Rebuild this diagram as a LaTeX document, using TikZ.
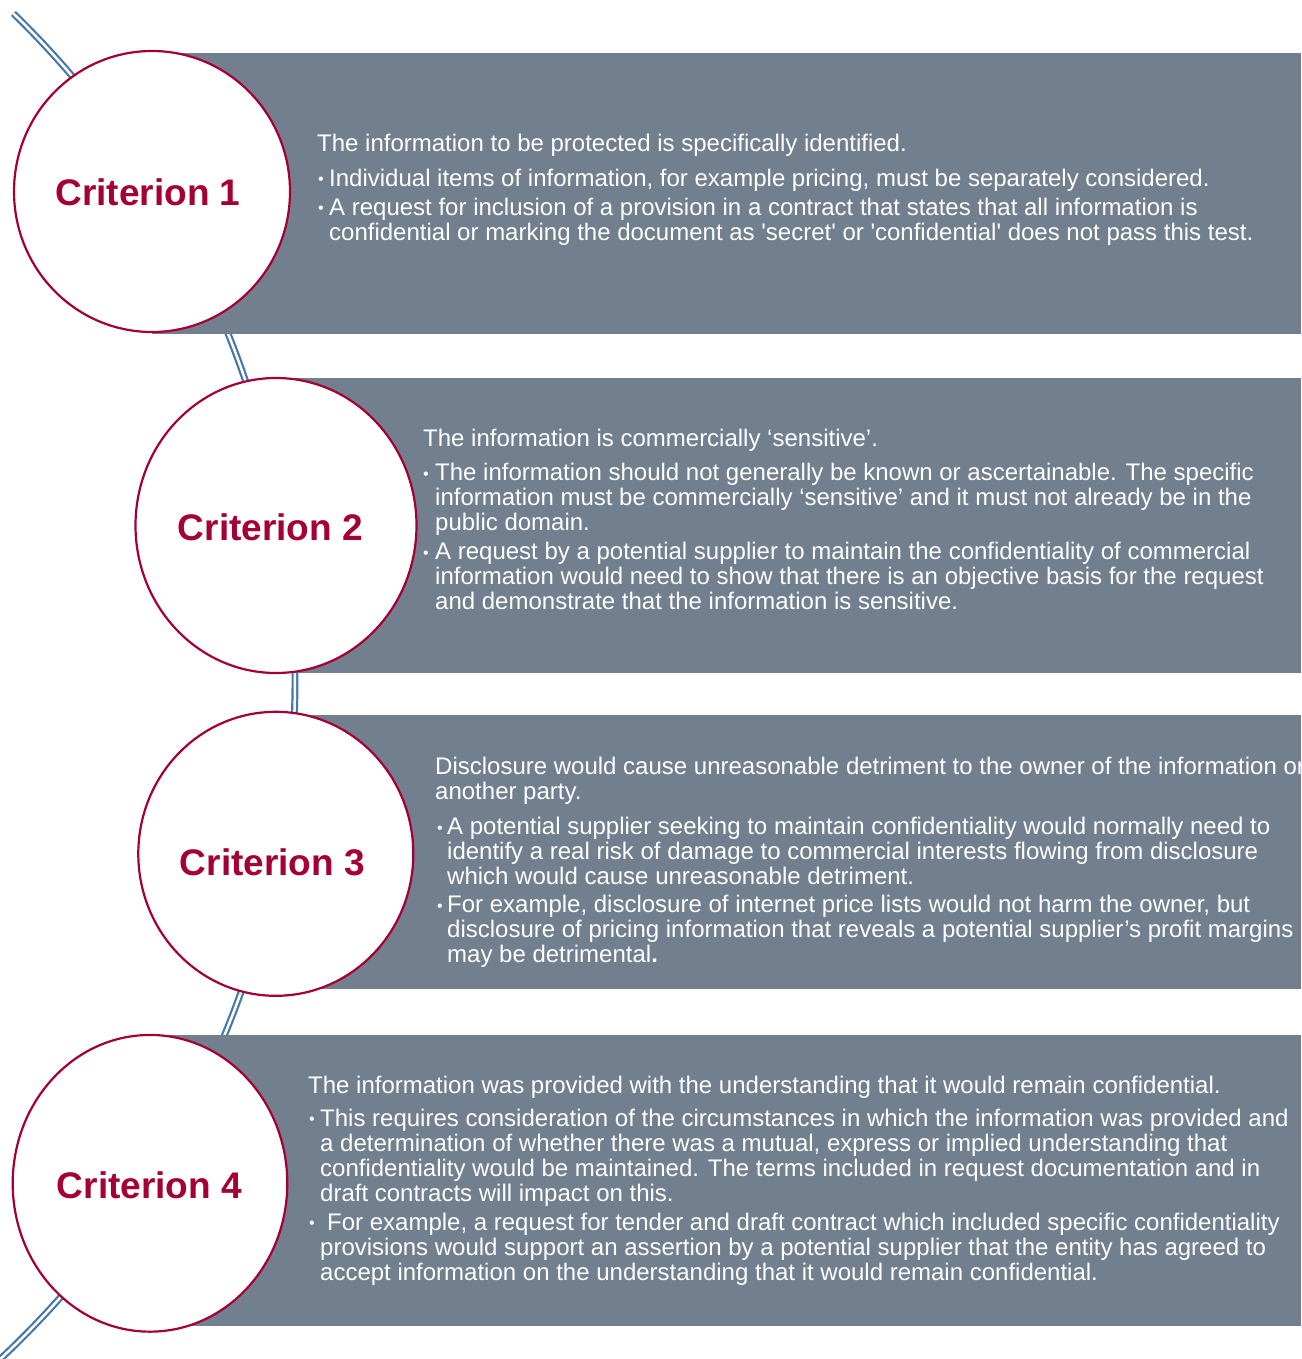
\documentclass[tikz,border=0pt]{standalone}
\usepackage{fontspec}
\newfontfamily\bodyfont{Liberation Sans}
\usetikzlibrary{shapes.geometric}
\definecolor{boxgray}{RGB}{113,127,142}
\definecolor{crimson}{RGB}{165,0,52}
\definecolor{arcblue}{RGB}{70,120,168}
\newcommand\lines[1]{\begin{tabular}[t]{@{}l@{}}#1\end{tabular}}
\tikzset{
  arcline/.style={draw=arcblue, line width=2.2pt, double=white, double distance=2.5pt},
  panel/.style={fill=boxgray},
  circ/.style={ellipse, draw=crimson, line width=2.2pt, fill=white, inner sep=0pt},
  lab/.style={anchor=base, inner sep=0pt, text=crimson, font=\bodyfont\bfseries\fontsize{37}{40}\selectfont},
  txt/.style={anchor=base west, inner sep=0pt, text=white, font=\bodyfont\fontsize{24}{25}\selectfont},
  bul/.style={anchor=base west, inner sep=0pt, text=white, font=\bodyfont\fontsize{16}{25}\selectfont, yshift=1.5pt}
}
\begin{document}
\begin{tikzpicture}[x=1pt,y=-1pt]
\clip (0,0) rectangle (1301,1359);
\fill[white] (0,0) rectangle (1301,1359);
% background arc
\draw[arcline] (-634.7,680) ++(-45.8:929.7) arc[start angle=-45.8, end angle=50, radius=929.7];
% panels
\path[panel] (152,53) rectangle (1301,334);
\path[panel] (276,378) rectangle (1301,673);
\path[panel] (276,715) rectangle (1301,988.5);
\path[panel] (150,1035) rectangle (1301,1326);
% circles
\node[circ, minimum width=276, minimum height=281] (c1) at (152,191.5) {};
\node[circ, minimum width=281, minimum height=295] (c2) at (276,525.5) {};
\node[circ, minimum width=275, minimum height=284] (c3) at (275.8,853.8) {};
\node[circ, minimum width=274.6, minimum height=296.7] (c4) at (150,1183.3) {};
\node[lab] (l1) at (148,205) {Criterion 1};
\node[lab] (l2) at (270.5,540) {Criterion 2};
\node[lab] (l3) at (272.5,875) {Criterion 3};
\node[lab] (l4) at (149.5,1198.3) {Criterion 4};
% panel 1
\node[txt] (t1) at (317,151.7) {The information to be protected is specifically identified.};
\node[bul] (b1a) at (318,186.5) {•};
\node[txt] (p1a) at (329,186.5) {Individual items of information, for example pricing, must be separately considered.};
\node[bul] (b1b) at (318,215) {•};
\node[txt] (p1b) at (329,215) {\lines{A request for inclusion of a provision in a contract that states that all information is\\confidential or marking the document as 'secret' or 'confidential' does not pass this test.}};
% panel 2
\node[txt] (t2) at (423,446.5) {The information is commercially ‘sensitive’.};
\node[bul] (b2a) at (423,480.5) {•};
\node[txt] (p2a) at (435,480.5) {\lines{The information should not generally be known or ascertainable. The specific\\information must be commercially ‘sensitive’ and it must not already be in the\\public domain.}};
\node[bul] (b2b) at (423,559.5) {•};
\node[txt] (p2b) at (435,559.5) {\lines{A request by a potential supplier to maintain the confidentiality of commercial\\information would need to show that there is an objective basis for the request\\and demonstrate that the information is sensitive.}};
% panel 3
\node[txt] (t3) at (435,774.5) {\lines{Disclosure would cause unreasonable detriment to the owner of the information or\\another party.}};
\node[bul] (b3a) at (437,834.5) {•};
\node[txt] (p3a) at (447,834.5) {\lines{A potential supplier seeking to maintain confidentiality would normally need to\\identify a real risk of damage to commercial interests flowing from disclosure\\which would cause unreasonable detriment.}};
\node[bul] (b3b) at (437,912.5) {•};
\node[txt] (p3b) at (447,912.5) {\lines{For example, disclosure of internet price lists would not harm the owner, but\\disclosure of pricing information that reveals a potential supplier’s profit margins\\may be detrimental\textbf{.}}};
% panel 4
\node[txt] (t4) at (308,1093) {The information was provided with the understanding that it would remain confidential.};
\node[bul] (b4a) at (309,1126) {•};
\node[txt] (p4a) at (320,1126) {\lines{This requires consideration of the circumstances in which the information was provided and\\a determination of whether there was a mutual, express or implied understanding that\\confidentiality would be maintained. The terms included in request documentation and in\\draft contracts will impact on this.}};
\node[bul] (b4b) at (309,1230) {•};
\node[txt] (p4b) at (320,1230) {\lines{\hspace*{7pt}For example, a request for tender and draft contract which included specific confidentiality\\provisions would support an assertion by a potential supplier that the entity has agreed to\\accept information on the understanding that it would remain confidential.}};
\end{tikzpicture}
\end{document}
